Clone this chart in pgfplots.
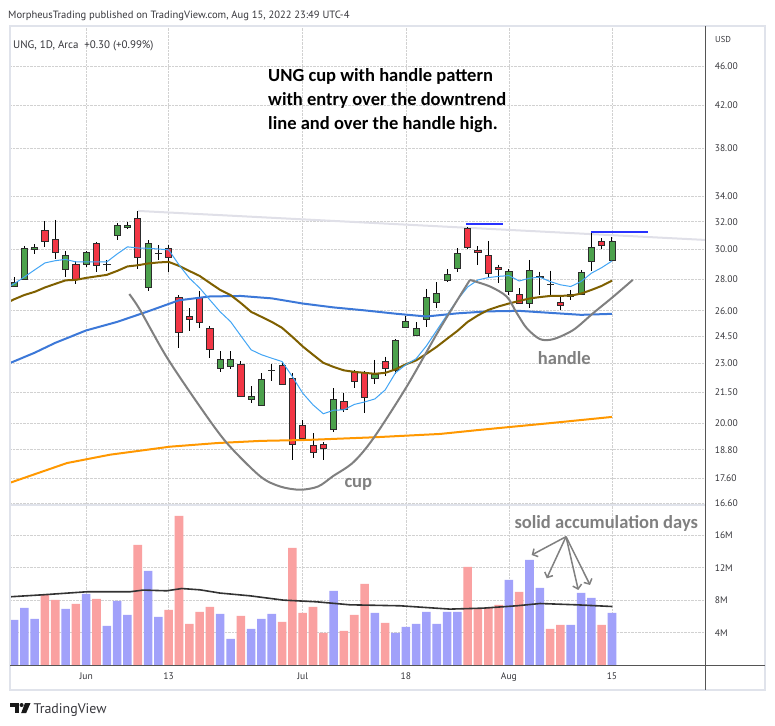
\documentclass[border=0pt]{standalone}
\usepackage{pgfplots}
\pgfplotsset{compat=1.18}
\usepackage{fontspec}
\setmainfont{PT Sans}
\newfontfamily\notefont{Carlito}
\usetikzlibrary{arrows.meta}

\definecolor{upc}{RGB}{76,161,76}
\definecolor{dnc}{RGB}{242,54,69}
\definecolor{edge}{RGB}{45,45,45}
\definecolor{volr}{RGB}{250,161,161}
\definecolor{volb}{RGB}{161,161,250}
\definecolor{maA}{RGB}{66,165,245}
\definecolor{maB}{RGB}{127,96,0}
\definecolor{maC}{RGB}{60,120,216}
\definecolor{maD}{RGB}{255,152,0}
\definecolor{note}{RGB}{128,128,128}
\definecolor{framec}{RGB}{224,227,235}
\definecolor{txt}{RGB}{55,55,60}
\definecolor{trendc}{RGB}{224,224,232}
\definecolor{hlinec}{RGB}{40,50,255}
\definecolor{sepc}{RGB}{85,85,85}

% one daily candle: index, open, high, low, close, body colour
\newcommand{\candle}[6]{%
  \pgfmathsetmacro{\xl}{#1-0.3}%
  \pgfmathsetmacro{\xr}{#1+0.3}%
  \edef\candlecmd{%
    \noexpand\addplot[black, line width=1bp] coordinates {(#1,#3) (#1,#4)};%
    \noexpand\addplot[draw=edge, line width=0.8bp, fill=#6] coordinates {(\xl,#2) (\xr,#2) (\xr,#5) (\xl,#5)} -- cycle;%
  }%
  \candlecmd}
\newcommand{\up}[5]{\candle{#1}{#2}{#3}{#4}{#5}{upc}}
\newcommand{\dn}[5]{\candle{#1}{#2}{#3}{#4}{#5}{dnc}}

\pgfplotsset{
  tvaxis/.style={
    scale only axis, anchor=north west,
    width=695.3bp,
    xmin=-0.39, xmax=67.05,
    xtick={7,15,28,38,48,58},
    xmajorgrids, ymajorgrids,
    grid style={densely dotted, black!18, line width=0.6bp},
    axis line style={draw=none},
    major tick length=0pt, minor tick length=0pt,
    tick style={draw=none},
    yticklabel pos=right,
    yticklabel style={anchor=west, xshift=6bp, text=txt, font=\fontsize{9.6}{11}\selectfont},
    xticklabel style={text=txt, font=\fontsize{9.6}{11}\selectfont},
    /pgf/number format/assume math mode=true,
  }
}

\begin{document}
\begin{tikzpicture}
\fill[white] (0,0) rectangle (775bp,-726bp);
\path[use as bounding box] (0,0) rectangle (775bp,-726bp);

% ---------------- price pane ----------------
\begin{axis}[tvaxis,
  at={(10bp,-26bp)}, height=479bp,
  ymode=log, ymin=16.52, ymax=50.54,
  xticklabels={},
  ytick={16.6,17.6,18.8,20,21.5,23,24.5,26,28,30,32,34,38,42,46},
  yticklabels={16.60,17.60,18.80,20.00,21.50,23.00,24.50,26.00,28.00,30.00,32.00,34.00,38.00,42.00,46.00},
  log basis y=10,
]
% downtrend line
\addplot[trendc, line width=2bp] coordinates {(12.03,32.82) (67.05,30.67)};

% candles: index, open, high, low, close
\up{0}{27.55}{28.12}{27.50}{27.79}
\up{1}{27.94}{30.25}{27.90}{30.09}
\up{2}{30.00}{30.38}{29.69}{30.15}
\dn{3}{31.35}{32.03}{30.19}{30.58}
\dn{4}{30.72}{32.14}{29.36}{29.80}
\up{5}{28.60}{29.89}{28.16}{29.56}
\dn{6}{28.99}{29.18}{27.66}{27.94}
\up{7}{29.00}{29.87}{28.79}{29.80}
\dn{8}{30.44}{30.53}{28.49}{28.87}
\up{9}{28.96}{29.27}{28.55}{28.98}
\up{10}{31.03}{31.90}{30.67}{31.75}
\up{11}{31.58}{32.00}{31.45}{31.75}
\dn{12}{32.24}{32.82}{28.69}{29.46}
\up{13}{27.47}{30.65}{27.25}{30.44}
\up{14}{29.72}{30.28}{29.27}{29.75}
\dn{15}{30.10}{30.30}{28.49}{29.46}
\dn{16}{26.83}{26.96}{23.83}{24.73}
\dn{17}{25.67}{26.15}{24.82}{25.49}
\dn{18}{26.83}{27.23}{24.96}{25.31}
\dn{19}{24.96}{25.09}{23.27}{23.73}
\up{20}{22.74}{23.66}{22.56}{23.22}
\up{21}{22.84}{23.66}{22.70}{23.22}
\dn{22}{22.95}{23.11}{21.28}{21.31}
\up{23}{21.15}{21.80}{20.95}{21.29}
\up{24}{20.85}{22.47}{20.82}{22.17}
\up{25}{22.60}{22.95}{22.09}{22.64}
\dn{26}{22.89}{23.09}{21.88}{21.91}
\dn{27}{22.22}{22.47}{18.33}{19.04}
\dn{28}{19.89}{20.15}{19.28}{19.30}
\dn{29}{18.98}{19.54}{18.43}{18.69}
\dn{30}{19.02}{19.13}{18.33}{18.86}
\up{31}{19.72}{21.70}{19.57}{21.15}
\dn{32}{21.05}{21.44}{20.52}{20.63}
\dn{33}{22.52}{22.65}{21.70}{22.06}
\dn{34}{22.50}{22.60}{20.50}{21.22}
\up{35}{22.22}{23.18}{21.91}{22.42}
\dn{36}{23.09}{23.36}{22.31}{22.74}
\up{37}{22.60}{24.33}{22.42}{24.27}
\up{38}{25.02}{25.69}{25.00}{25.35}
\up{39}{24.55}{25.31}{24.48}{24.96}
\up{40}{25.49}{27.36}{25.05}{26.83}
\up{41}{26.51}{27.79}{26.19}{27.08}
\up{42}{27.92}{28.64}{27.83}{28.32}
\up{43}{28.71}{30.08}{28.43}{29.71}
\dn{44}{31.53}{31.64}{30.00}{30.15}
\dn{45}{29.91}{30.22}{28.94}{29.80}
\dn{46}{29.56}{30.60}{28.05}{28.38}
\dn{47}{28.78}{28.96}{27.73}{28.65}
\up{48}{27.23}{28.64}{26.98}{28.53}
\dn{49}{27.03}{27.40}{26.40}{26.45}
\up{50}{26.45}{29.27}{26.15}{28.58}
\up{51}{28.10}{28.49}{26.98}{28.18}
\dn{52}{27.66}{28.55}{26.98}{27.62}
\dn{53}{26.53}{26.87}{26.05}{26.30}
\up{54}{26.91}{27.29}{26.66}{27.03}
\up{55}{27.03}{28.60}{26.98}{28.45}
\up{56}{29.14}{31.15}{28.55}{30.15}
\dn{57}{30.58}{30.80}{30.00}{30.28}
\up{58}{29.25}{30.86}{29.18}{30.60}

% 200-day average
\addplot[maD, line width=2bp] coordinates {
 (-0.39,17.40) (5.14,18.22) (9.31,18.58) (15.13,18.93) (19.66,19.09) (23.96,19.19)
 (28.39,19.23) (34.85,19.35) (41.32,19.50) (45.2,19.69) (52,20.00) (58,20.29)};
% 50-day average
\addplot[maC, line width=2bp] coordinates {
 (-0.39,23.01) (2,23.57) (4,24.12) (7,24.83) (10,25.33) (13,25.96) (16,26.64)
 (19,26.88) (22,26.91) (25,26.76) (28,26.44) (31,26.20) (34,26.02) (37,25.82)
 (40,25.65) (43,25.84) (46,25.96) (49,25.99) (52,25.87) (55,25.75) (58,25.81)};
% 20-day average
\addplot[maB, line width=2bp] coordinates {
 (-0.39,26.58) (0,26.70) (1,26.97) (2,27.17) (3,27.45) (4,27.68) (5,27.91) (6,27.94)
 (7,28.07) (8,28.17) (9,28.27) (10,28.53) (11,28.83) (12,28.91) (13,29.03) (14,29.10)
 (15,29.14) (16,28.87) (17,28.53) (18,28.20) (19,27.74) (20,27.29) (21,26.97) (22,26.47)
 (23,25.93) (24,25.63) (25,25.33) (26,24.98) (27,24.46) (28,23.92) (29,23.46) (30,23.02)
 (31,22.80) (32,22.62) (33,22.54) (34,22.49) (35,22.44) (36,22.49) (37,22.67) (38,22.94)
 (39,23.15) (40,23.51) (41,23.90) (42,24.35) (43,24.80) (44,25.33) (45,25.72) (46,26.05)
 (47,26.26) (48,26.44) (49,26.60) (50,26.75) (51,26.84) (52,26.91) (53,26.92) (54,26.93)
 (55,27.06) (56,27.29) (57,27.55) (58,27.89)};
% 5-day average
\addplot[maA, line width=1bp] coordinates {
 (-0.39,27.55) (0,27.68) (1,28.13) (2,28.60) (3,29.07) (4,29.22) (5,29.31) (6,29.14)
 (7,29.14) (8,29.14) (9,29.14) (10,29.68) (11,30.18) (12,30.10) (13,30.08) (14,30.03)
 (15,29.97) (16,28.94) (17,28.06) (18,27.42) (19,26.66) (20,25.93) (21,25.35) (22,24.52)
 (23,23.73) (24,23.46) (25,23.27) (26,23.09) (27,22.29) (28,21.45) (29,20.87) (30,20.44)
 (31,20.61) (32,20.63) (33,20.89) (34,21.01) (35,21.16) (36,21.61) (37,22.49) (38,22.92)
 (39,23.24) (40,23.95) (41,24.83) (42,25.75) (43,26.66) (44,27.48) (45,27.94) (46,28.09)
 (47,28.17) (48,28.22) (49,27.87) (50,28.05) (51,28.12) (52,27.83) (53,27.62) (54,27.51)
 (55,27.83) (56,28.38) (57,28.75) (58,29.20)};

% cup and handle sketch
\addplot[note, line width=2bp, smooth] coordinates {
 (11.18,27.03) (12.22,26.05) (14.81,23.33) (18.04,20.78) (20.63,19.10) (23.86,17.67)
 (25.8,17.25) (27.74,17.12) (29.5,17.25) (30.94,17.67) (32.9,18.25) (34.85,19.30)
 (38.09,21.78) (41.32,24.95) (44.22,27.94)};
\addplot[note, line width=2bp, smooth] coordinates {
 (44.22,27.94) (46.17,27.51) (47.79,26.87) (48.76,25.86) (49.73,24.96) (51.02,24.33)
 (52.31,24.33) (54.25,24.86) (56.19,25.86) (58.13,26.87) (60.01,27.94)};

% handle highs
\addplot[hlinec, line width=2bp] coordinates {(43.84,31.84) (47.40,31.84)};
\addplot[hlinec, line width=2bp] coordinates {(55.97,31.23) (61.46,31.23)};
\end{axis}

% ---------------- volume pane ----------------
\begin{axis}[tvaxis,
  at={(10bp,-505bp)}, height=160bp,
  ymin=0, ymax=19.75,
  xticklabels={Jun,13,Jul,18,Aug,15},
  xticklabel style={yshift=-4bp},
  ytick={4,8,12,16}, yticklabels={4M,8M,12M,16M},
]
\addplot[ybar, bar width=0.83, bar shift=0pt, fill=volb, draw=none] coordinates {
 (0,5.58) (1,7.06) (2,5.70) (5,6.94) (7,8.79) (9,4.84) (10,7.93) (11,6.20) (13,11.63)
 (14,5.95) (20,6.32) (21,3.23) (23,4.47) (24,5.70) (25,6.32) (31,9.16) (35,6.44)
 (37,3.97) (38,4.71) (39,5.09) (40,6.57) (41,5.09) (42,6.57) (43,6.57) (48,10.52)
 (50,12.99) (51,9.53) (54,4.96) (55,8.91) (56,8.30) (58,6.44)};
\addplot[ybar, bar width=0.83, bar shift=0pt, fill=volr, draw=none] coordinates {
 (3,8.67) (4,8.05) (6,7.56) (8,8.17) (12,14.84) (15,6.81) (16,18.42) (17,5.09) (18,6.57)
 (19,7.19) (22,6.07) (26,5.33) (27,14.47) (28,6.44) (29,7.19) (30,3.97) (32,4.22)
 (33,6.20) (34,10.02) (36,5.21) (44,12.12) (45,6.94) (46,7.06) (47,7.43) (49,9.04)
 (52,4.47) (53,4.96) (57,4.96)};
% volume average
\addplot[black!80, line width=1.6bp] coordinates {
 (-0.39,8.42) (2.84,8.67) (7.05,9.04) (11.25,9.04) (12.54,9.25) (14.81,9.16) (16.27,9.44)
 (18.04,9.28) (19.98,8.88) (22.89,8.54) (26.12,8.01) (29.36,7.80) (32.59,7.43) (37.44,7.31)
 (42.29,6.90) (45.52,7.02) (48.76,7.31) (51.02,7.59) (54.58,7.43) (58.03,7.22)};
% arrows to the accumulation days
\addplot[note, line width=1.5bp, -{Straight Barb[length=4bp,width=9bp]}] coordinates {(53.54,15.84) (50.21,13.58)};
\addplot[note, line width=1.5bp, -{Straight Barb[length=4bp,width=9bp]}] coordinates {(53.54,15.84) (51.67,10.70)};
\addplot[note, line width=1.5bp, -{Straight Barb[length=4bp,width=9bp]}] coordinates {(53.54,15.84) (54.73,9.26)};
\addplot[note, line width=1.5bp, -{Straight Barb[length=4bp,width=9bp]}] coordinates {(53.54,15.84) (55.87,9.88)};
\end{axis}

% frame and pane separators
\draw[framec, line width=2bp] (10bp,-26bp) rectangle (765bp,-690bp);
\draw[framec, line width=2bp] (10bp,-505bp) -- (705bp,-505bp);
\draw[sepc, line width=1bp] (705.3bp,-26bp) -- (705.3bp,-690bp);
\draw[sepc, line width=1bp] (10bp,-665bp) -- (765bp,-665bp);

% texts
\node[anchor=base west, inner sep=0, text=txt, font=\fontsize{10.6}{12}\selectfont] at (8bp,-18.3bp)
  {MorpheusTrading published on TradingView.com, Aug 15, 2022 23:49 UTC-4};
\node[anchor=base west, inner sep=0, text=txt, font=\fontsize{11}{13}\selectfont] at (13bp,-48.3bp)
  {UNG, 1D, Arca\ \ +0.30 (+0.99\%)};
\node[anchor=base west, inner sep=0, text=txt, font=\fontsize{8.6}{10}\selectfont] at (715bp,-42.7bp) {USD};

\begin{scope}[every node/.style={anchor=base west, inner sep=0, font=\notefont\bfseries\fontsize{18.6}{22}\selectfont}]
\node[text=black] at (268bp,-81.7bp) {UNG cup with handle pattern};
\node[text=black] at (268bp,-105.5bp) {with entry over the downtrend};
\node[text=black] at (268bp,-129.2bp) {line and over the handle high.};
\node[text=note] at (537.7bp,-364.5bp) {handle};
\node[text=note] at (344.3bp,-487.7bp) {cup};
\node[text=note] at (514.3bp,-528bp) {solid accumulation days};
\end{scope}

% footer logo and name
\fill[black!90] (10bp,-703bp) rectangle (18.5bp,-706.8bp);
\fill[black!90] (14.7bp,-703bp) rectangle (18.5bp,-713bp);
\fill[black!90] (21.6bp,-705bp) circle (2bp);
\fill[black!90] (25bp,-703bp) -- (30.5bp,-703bp) -- (26.2bp,-713bp) -- (21.2bp,-713bp) -- cycle;
\node[anchor=base west, inner sep=0, text=txt, font=\fontsize{14}{16}\selectfont] at (33.3bp,-713.3bp) {TradingView};
\end{tikzpicture}
\end{document}
